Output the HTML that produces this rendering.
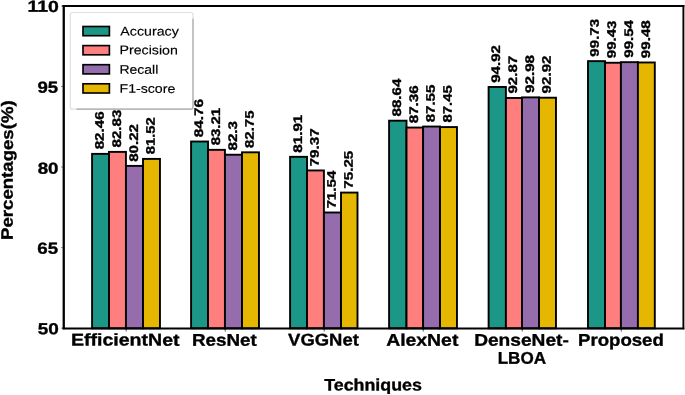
<!DOCTYPE html>
<html><head><meta charset="utf-8"><title>Chart</title>
<style>
html,body{margin:0;padding:0;background:#fff;}
body{width:685px;height:395px;overflow:hidden;}
svg{display:block;}
text{font-family:"Liberation Sans", sans-serif;fill:#000;text-rendering:geometricPrecision;}
text[font-weight="bold"]{stroke:#000;stroke-width:0.35px;stroke-linejoin:round;}
text[font-weight="normal"]{stroke:#000;stroke-width:0.15px;stroke-linejoin:round;}
svg{will-change:transform;}
</style></head><body>
<svg id="chart" width="685" height="395" viewBox="0 0 685 395">
<rect width="685" height="395" fill="#fff"/>
<g id="shapes">
<rect x="92.09" y="153.87" width="16.91" height="174.43" fill="#1b9687" stroke="#000" stroke-width="1.9"/>
<rect x="109.00" y="151.88" width="16.93" height="176.42" fill="#ff7f7f" stroke="#000" stroke-width="1.9"/>
<rect x="125.93" y="165.89" width="17.09" height="162.41" fill="#956dac" stroke="#000" stroke-width="1.9"/>
<rect x="143.02" y="158.91" width="16.94" height="169.39" fill="#e6b700" stroke="#000" stroke-width="1.9"/>
<rect x="191.09" y="141.52" width="16.93" height="186.78" fill="#1b9687" stroke="#000" stroke-width="1.9"/>
<rect x="208.02" y="149.84" width="16.91" height="178.46" fill="#ff7f7f" stroke="#000" stroke-width="1.9"/>
<rect x="224.93" y="154.73" width="17.09" height="173.57" fill="#956dac" stroke="#000" stroke-width="1.9"/>
<rect x="242.02" y="152.31" width="16.94" height="175.99" fill="#e6b700" stroke="#000" stroke-width="1.9"/>
<rect x="290.09" y="156.82" width="16.93" height="171.48" fill="#1b9687" stroke="#000" stroke-width="1.9"/>
<rect x="307.02" y="170.46" width="16.88" height="157.84" fill="#ff7f7f" stroke="#000" stroke-width="1.9"/>
<rect x="323.90" y="212.50" width="17.12" height="115.80" fill="#956dac" stroke="#000" stroke-width="1.9"/>
<rect x="341.02" y="192.58" width="16.48" height="135.72" fill="#e6b700" stroke="#000" stroke-width="1.9"/>
<rect x="389.09" y="120.69" width="17.41" height="207.61" fill="#1b9687" stroke="#000" stroke-width="1.9"/>
<rect x="406.50" y="127.56" width="16.60" height="200.74" fill="#ff7f7f" stroke="#000" stroke-width="1.9"/>
<rect x="423.10" y="126.54" width="16.92" height="201.76" fill="#956dac" stroke="#000" stroke-width="1.9"/>
<rect x="440.02" y="127.07" width="16.94" height="201.23" fill="#e6b700" stroke="#000" stroke-width="1.9"/>
<rect x="488.60" y="86.97" width="17.30" height="241.33" fill="#1b9687" stroke="#000" stroke-width="1.9"/>
<rect x="505.90" y="97.97" width="16.10" height="230.33" fill="#ff7f7f" stroke="#000" stroke-width="1.9"/>
<rect x="522.00" y="97.38" width="17.02" height="230.92" fill="#956dac" stroke="#000" stroke-width="1.9"/>
<rect x="539.02" y="97.71" width="16.94" height="230.59" fill="#e6b700" stroke="#000" stroke-width="1.9"/>
<rect x="588.00" y="61.14" width="17.00" height="267.16" fill="#1b9687" stroke="#000" stroke-width="1.9"/>
<rect x="605.00" y="62.75" width="15.90" height="265.55" fill="#ff7f7f" stroke="#000" stroke-width="1.9"/>
<rect x="620.90" y="62.16" width="17.00" height="266.14" fill="#956dac" stroke="#000" stroke-width="1.9"/>
<rect x="637.90" y="62.48" width="16.90" height="265.82" fill="#e6b700" stroke="#000" stroke-width="1.9"/>
<line x1="61.05" y1="328.15" x2="63.75" y2="328.15" stroke="#000" stroke-width="0.9" stroke-opacity="0.5"/>
<line x1="61.05" y1="247.61" x2="63.75" y2="247.61" stroke="#000" stroke-width="0.9" stroke-opacity="0.5"/>
<line x1="61.05" y1="167.07" x2="63.75" y2="167.07" stroke="#000" stroke-width="0.9" stroke-opacity="0.5"/>
<line x1="61.05" y1="86.54" x2="63.75" y2="86.54" stroke="#000" stroke-width="0.9" stroke-opacity="0.5"/>
<line x1="61.05" y1="6.00" x2="63.75" y2="6.00" stroke="#000" stroke-width="0.9" stroke-opacity="0.5"/>
<line x1="126.23" y1="328.30" x2="126.23" y2="331.60" stroke="#000" stroke-width="0.9" stroke-opacity="0.7"/>
<line x1="225.23" y1="328.30" x2="225.23" y2="331.60" stroke="#000" stroke-width="0.9" stroke-opacity="0.7"/>
<line x1="324.23" y1="328.30" x2="324.23" y2="331.60" stroke="#000" stroke-width="0.9" stroke-opacity="0.7"/>
<line x1="423.23" y1="328.30" x2="423.23" y2="331.60" stroke="#000" stroke-width="0.9" stroke-opacity="0.7"/>
<line x1="522.23" y1="328.30" x2="522.23" y2="331.60" stroke="#000" stroke-width="0.9" stroke-opacity="0.7"/>
<line x1="621.23" y1="328.30" x2="621.23" y2="331.60" stroke="#000" stroke-width="0.9" stroke-opacity="0.7"/>
<path d="M63.75 4.90V329.30" stroke="#000" stroke-width="2.3"/>
<path d="M683.4 4.90V329.30" stroke="#000" stroke-width="1.9"/>
<path d="M62.60 6.00H684.35" stroke="#000" stroke-width="2.2"/>
<path d="M62.60 328.4H684.35" stroke="#000" stroke-width="2.0"/>
</g>
<g id="texts">
<text id="t0" font-size="16.001" font-weight="bold" textLength="31.324" lengthAdjust="spacingAndGlyphs" x="27.421" y="11.856" transform="rotate(0.05 27.421 11.856)">110</text>
<text id="t1" font-size="16.001" font-weight="bold" textLength="20.694" lengthAdjust="spacingAndGlyphs" x="37.391" y="92.779" transform="rotate(0.05 37.391 92.779)">95</text>
<text id="t2" font-size="16.001" font-weight="bold" textLength="20.802" lengthAdjust="spacingAndGlyphs" x="37.666" y="173.664" transform="rotate(0.05 37.666 173.664)">80</text>
<text id="t3" font-size="16.001" font-weight="bold" textLength="20.791" lengthAdjust="spacingAndGlyphs" x="37.292" y="253.849" transform="rotate(0.05 37.292 253.849)">65</text>
<text id="t4" font-size="16.001" font-weight="bold" textLength="21.044" lengthAdjust="spacingAndGlyphs" x="37.748" y="334.282" transform="rotate(0.05 37.748 334.282)">50</text>
<text id="t5" font-size="16.995" font-weight="bold" textLength="108.705" lengthAdjust="spacingAndGlyphs" x="70.904" y="345.548" transform="rotate(0.05 70.904 345.548)">EfficientNet</text>
<text id="t6" font-size="16.995" font-weight="bold" textLength="64.742" lengthAdjust="spacingAndGlyphs" x="191.949" y="345.629" transform="rotate(0.05 191.949 345.629)">ResNet</text>
<text id="t7" font-size="16.995" font-weight="bold" textLength="70.675" lengthAdjust="spacingAndGlyphs" x="288.113" y="345.573" transform="rotate(0.05 288.113 345.573)">VGGNet</text>
<text id="t8" font-size="16.995" font-weight="bold" textLength="72.208" lengthAdjust="spacingAndGlyphs" x="386.169" y="345.697" transform="rotate(0.05 386.169 345.697)">AlexNet</text>
<text id="t9" font-size="16.995" font-weight="bold" textLength="94.666" lengthAdjust="spacingAndGlyphs" x="474.125" y="345.761" transform="rotate(0.05 474.125 345.761)">DenseNet-</text>
<text id="t10" font-size="16.995" font-weight="bold" textLength="48.425" lengthAdjust="spacingAndGlyphs" x="497.643" y="363.836" transform="rotate(0.05 497.643 363.836)">LBOA</text>
<text id="t11" font-size="16.995" font-weight="bold" textLength="85.821" lengthAdjust="spacingAndGlyphs" x="578.012" y="345.683" transform="rotate(0.05 578.012 345.683)">Proposed</text>
<text id="t12" font-size="16.588" font-weight="bold" textLength="97.701" lengthAdjust="spacingAndGlyphs" x="324.194" y="390.447" transform="rotate(0.05 324.194 390.447)">Techniques</text>
<text id="t17" font-size="16.609" font-weight="bold" textLength="139.626" lengthAdjust="spacingAndGlyphs" transform="translate(12.815,239.963) rotate(-89.95)">Percentages(%)</text>
<text id="t18" font-size="12.474" font-weight="bold" textLength="37.913" lengthAdjust="spacingAndGlyphs" transform="translate(103.837,149.341) rotate(-89.95)">82.46</text>
<text id="t19" font-size="12.474" font-weight="bold" textLength="37.721" lengthAdjust="spacingAndGlyphs" transform="translate(121.001,147.440) rotate(-89.95)">82.83</text>
<text id="t20" font-size="12.474" font-weight="bold" textLength="37.801" lengthAdjust="spacingAndGlyphs" transform="translate(137.879,161.776) rotate(-89.95)">80.22</text>
<text id="t21" font-size="12.474" font-weight="bold" textLength="37.155" lengthAdjust="spacingAndGlyphs" transform="translate(154.635,154.296) rotate(-89.95)">81.52</text>
<text id="t22" font-size="12.474" font-weight="bold" textLength="38.237" lengthAdjust="spacingAndGlyphs" transform="translate(203.030,137.209) rotate(-89.95)">84.76</text>
<text id="t23" font-size="12.474" font-weight="bold" textLength="37.560" lengthAdjust="spacingAndGlyphs" transform="translate(220.015,145.341) rotate(-89.95)">83.21</text>
<text id="t24" font-size="12.474" font-weight="bold" textLength="29.536" lengthAdjust="spacingAndGlyphs" transform="translate(236.944,150.518) rotate(-89.95)">82.3</text>
<text id="t25" font-size="12.474" font-weight="bold" textLength="37.396" lengthAdjust="spacingAndGlyphs" transform="translate(253.844,147.943) rotate(-89.95)">82.75</text>
<text id="t26" font-size="12.474" font-weight="bold" textLength="38.015" lengthAdjust="spacingAndGlyphs" transform="translate(301.942,152.721) rotate(-89.95)">81.91</text>
<text id="t27" font-size="12.474" font-weight="bold" textLength="38.072" lengthAdjust="spacingAndGlyphs" transform="translate(318.808,166.376) rotate(-89.95)">79.37</text>
<text id="t28" font-size="12.474" font-weight="bold" textLength="37.899" lengthAdjust="spacingAndGlyphs" transform="translate(335.786,208.600) rotate(-89.95)">71.54</text>
<text id="t29" font-size="12.474" font-weight="bold" textLength="37.906" lengthAdjust="spacingAndGlyphs" transform="translate(352.652,188.631) rotate(-89.95)">75.25</text>
<text id="t30" font-size="12.474" font-weight="bold" textLength="37.822" lengthAdjust="spacingAndGlyphs" transform="translate(400.987,116.493) rotate(-89.95)">88.64</text>
<text id="t31" font-size="12.474" font-weight="bold" textLength="38.022" lengthAdjust="spacingAndGlyphs" transform="translate(417.909,123.286) rotate(-89.95)">87.36</text>
<text id="t32" font-size="12.474" font-weight="bold" textLength="37.634" lengthAdjust="spacingAndGlyphs" transform="translate(434.706,122.339) rotate(-89.95)">87.55</text>
<text id="t33" font-size="12.474" font-weight="bold" textLength="37.341" lengthAdjust="spacingAndGlyphs" transform="translate(451.783,122.517) rotate(-89.95)">87.45</text>
<text id="t34" font-size="12.474" font-weight="bold" textLength="37.727" lengthAdjust="spacingAndGlyphs" transform="translate(499.965,82.762) rotate(-89.95)">94.92</text>
<text id="t35" font-size="12.474" font-weight="bold" textLength="37.572" lengthAdjust="spacingAndGlyphs" transform="translate(516.968,93.476) rotate(-89.95)">92.87</text>
<text id="t36" font-size="12.474" font-weight="bold" textLength="37.961" lengthAdjust="spacingAndGlyphs" transform="translate(533.899,92.911) rotate(-89.95)">92.98</text>
<text id="t37" font-size="12.474" font-weight="bold" textLength="37.845" lengthAdjust="spacingAndGlyphs" transform="translate(550.683,93.379) rotate(-89.95)">92.92</text>
<text id="t38" font-size="12.474" font-weight="bold" textLength="37.792" lengthAdjust="spacingAndGlyphs" transform="translate(598.841,56.648) rotate(-89.95)">99.73</text>
<text id="t39" font-size="12.474" font-weight="bold" textLength="37.745" lengthAdjust="spacingAndGlyphs" transform="translate(615.850,58.238) rotate(-89.95)">99.43</text>
<text id="t40" font-size="12.474" font-weight="bold" textLength="37.745" lengthAdjust="spacingAndGlyphs" transform="translate(632.908,57.748) rotate(-89.95)">99.54</text>
<text id="t41" font-size="12.474" font-weight="bold" textLength="37.932" lengthAdjust="spacingAndGlyphs" transform="translate(649.891,58.145) rotate(-89.95)">99.48</text>
</g>
<g id="legend">
<rect x="70.3" y="12.5" width="122.70" height="96.65" rx="2.2" ry="2.2" fill="#fff" fill-opacity="0.8" stroke="#e0e0e0" stroke-width="1.2"/>
<path d="M193.00 18.70V106.95A2.2 2.2 0 0 1 190.80 109.15H76.50" fill="none" stroke="#a9a9a9" stroke-width="1.2"/>
<rect x="83.0" y="26.50" width="26.4" height="9.2" fill="#1b9687" stroke="#000" stroke-width="1.65"/>
<rect x="83.0" y="45.60" width="26.4" height="9.2" fill="#ff7f7f" stroke="#000" stroke-width="1.65"/>
<rect x="83.0" y="64.70" width="26.4" height="9.2" fill="#956dac" stroke="#000" stroke-width="1.65"/>
<rect x="83.0" y="83.80" width="26.4" height="9.2" fill="#e6b700" stroke="#000" stroke-width="1.65"/>
<text id="t13" font-size="12.461" font-weight="normal" textLength="58.394" lengthAdjust="spacingAndGlyphs" x="120.373" y="35.403" transform="rotate(0.05 120.373 35.403)">Accuracy</text>
<text id="t14" font-size="12.461" font-weight="normal" textLength="58.354" lengthAdjust="spacingAndGlyphs" x="119.486" y="54.345" transform="rotate(0.05 119.486 54.345)">Precision</text>
<text id="t15" font-size="12.461" font-weight="normal" textLength="38.820" lengthAdjust="spacingAndGlyphs" x="119.508" y="73.690" transform="rotate(0.05 119.508 73.690)">Recall</text>
<text id="t16" font-size="12.461" font-weight="normal" textLength="55.813" lengthAdjust="spacingAndGlyphs" x="119.504" y="92.858" transform="rotate(0.05 119.504 92.858)">F1-score</text>
</g>
</svg>
</body></html>
